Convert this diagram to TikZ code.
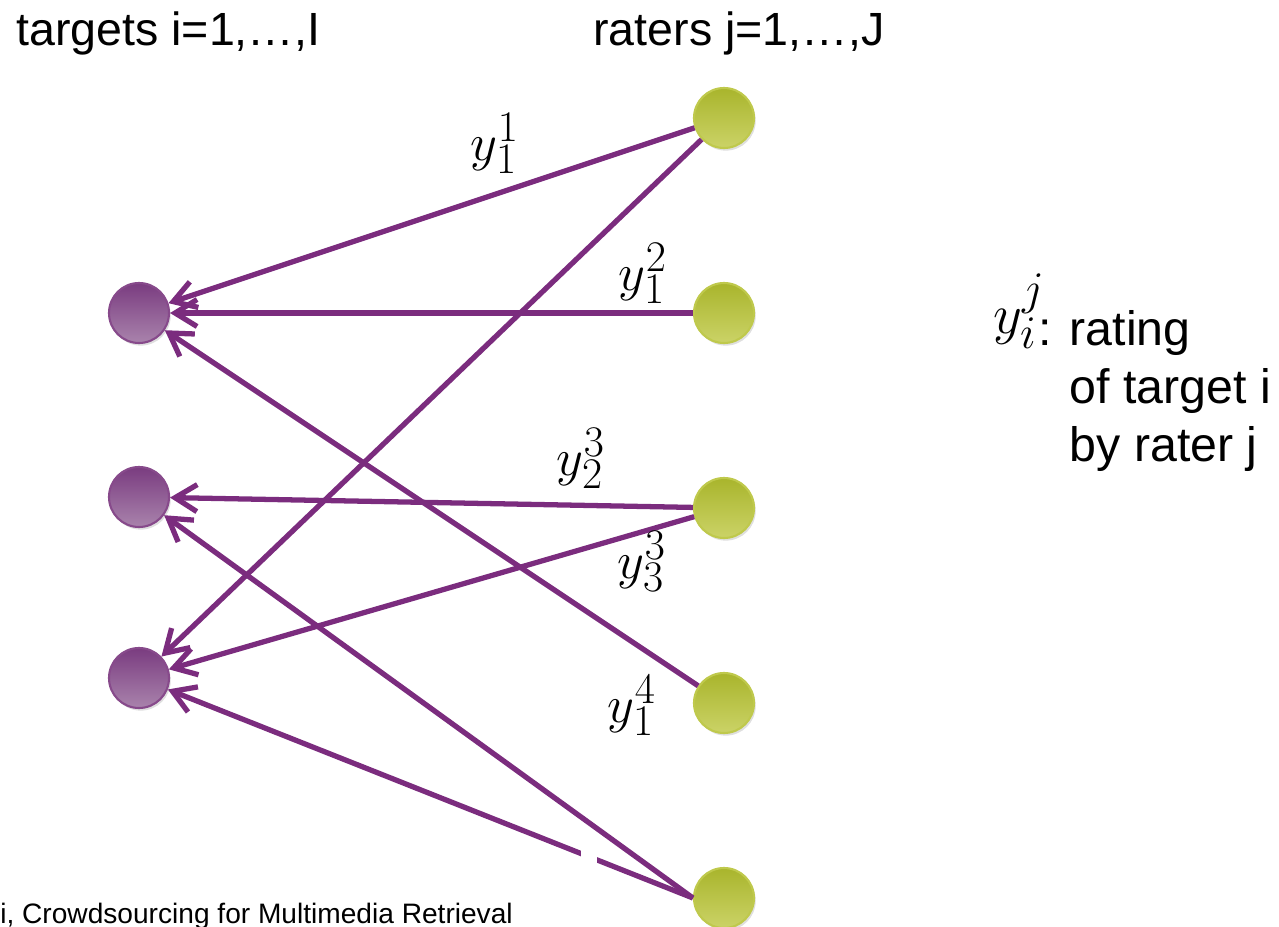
\documentclass[tikz,border=0pt]{standalone}
\usepackage[no-math]{fontspec}
\setmainfont{Liberation Sans}
\usepackage{xcolor}
\usetikzlibrary{arrows.meta, shadows}

\definecolor{plum}{HTML}{7B2C7E}
\definecolor{plumedge}{HTML}{874A8B}
\definecolor{plumtop}{HTML}{7A3C80}
\definecolor{plumbot}{HTML}{A983AC}
\definecolor{limeedge}{HTML}{BFC94C}
\definecolor{limetop}{HTML}{A9B52C}
\definecolor{limebot}{HTML}{CBD367}

\begin{document}
\begin{tikzpicture}[
    x=0.02cm,
    y=-0.02cm,
    every node/.style={
        inner sep=0pt
    },
    target/.style={
        circle,
        draw=plumedge,
        line width=1.2pt,
        minimum size=1.2cm,
        top color=plumtop,
        bottom color=plumbot,
        drop shadow={opacity=0.25, shadow xshift=1pt, shadow yshift=-1.5pt}
    },
    rater/.style={
        circle,
        draw=limeedge,
        line width=1.2pt,
        minimum size=1.2cm,
        top color=limetop,
        bottom color=limebot,
        drop shadow={opacity=0.25, shadow xshift=1pt, shadow yshift=-1.5pt}
    },
    line/.style={
        -{Straight Barb[length=4.4mm, width=5.4mm]},
        line width=3pt,
        draw=plum
    },
    rating/.style={
        font=\fontsize{24.88}{30}\selectfont,
        scale=1.2
    },
    heading/.style={
        font=\fontsize{26.5}{31}\selectfont,
        anchor=base west
    },
    legend/.style={
        font=\fontsize{27.5}{33}\selectfont,
        align=left,
        anchor=base west
    }
]
\useasboundingbox (0,0) rectangle (1279,927);

\node[heading] (targets) at (16,45) {targets i=1,…,I};
\node[heading] (raters) at (593,45) {raters j=1,…,J};

\node[target] (t1) at (139,313) {};
\node[target] (t2) at (139,497) {};
\node[target] (t3) at (139,678) {};

\node[rater] (r1) at (724,118) {};
\node[rater] (r2) at (724,313) {};
\node[rater] (r3) at (724,508) {};
\node[rater] (r4) at (724,703) {};
\node[rater] (r5) at (724,898) {};

\draw[line] (r1) -- (t1);
\draw[line] (r1) -- (t3);
\draw[line] (r2) -- (t1);
\draw[line] (r3) -- (t2);
\draw[line] (r3) -- (t3);
\draw[line] (r4) -- (t1);
\draw[line] (r5.west) -- (t2);
\draw[line] (r5.west) -- (t3);
\fill[white] (581,849) rectangle (597,868);

\node[rating] (y11) at (495,143) {$y_1^1$};
\node[rating] (y12) at (643,273) {$y_1^2$};
\node[rating] (y23) at (581,458) {$y_2^3$};
\node[rating] (y33) at (642,561) {$y_3^3$};
\node[rating] (y14) at (632,705) {$y_1^4$};

\node[rating, scale=1.07] (yij) at (1019,311) {$y_i^j$};
\node[legend] (meaning) at (1038,461)
    {: rating\\\phantom{: }of target i\\\phantom{: }by rater j};

\node[heading, font=\fontsize{16}{19}\selectfont] (source) at (0,923)
    {i, Crowdsourcing for Multimedia Retrieval};

\end{tikzpicture}
\end{document}
